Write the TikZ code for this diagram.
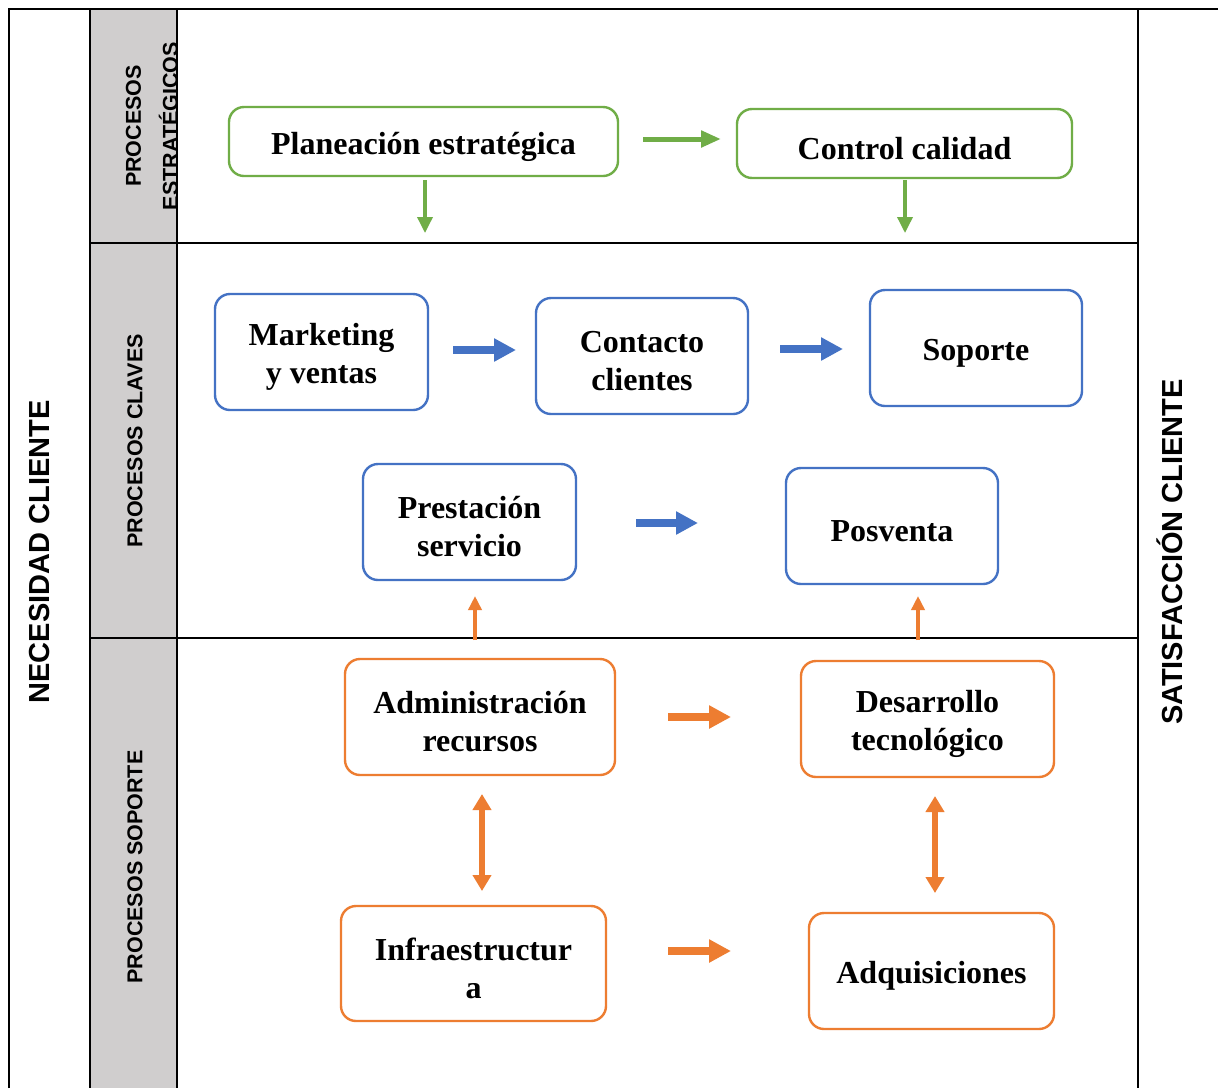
\documentclass[tikz,border=0pt]{standalone}
\usepackage{fontspec}
\setmainfont{Liberation Serif}
\newfontfamily\arial{Liberation Sans}
\usetikzlibrary{arrows.meta}
\definecolor{cgreen}{RGB}{112,173,71}
\definecolor{cblue}{RGB}{68,114,196}
\definecolor{corange}{RGB}{237,125,49}
\definecolor{cgray}{RGB}{208,206,206}
\tikzset{
  frame/.style={line width=2.6pt, black},
  pbox/.style={draw, rounded corners=15pt, line width=2.4pt, inner sep=0pt},
  ptext/.style={align=center, font=\bfseries\fontsize{32}{38}\selectfont, inner sep=0pt, yshift=-5pt},
  gbox/.style={pbox, draw=cgreen},
  bbox/.style={pbox, draw=cblue},
  obox/.style={pbox, draw=corange},
  lanelabel/.style={rotate=90, align=center, font=\arial\bfseries\fontsize{21.5}{37}\selectfont},
  sidelabel/.style={rotate=90, font=\arial\bfseries\fontsize{29}{32}\selectfont},
  garrow/.style={cgreen, line width=5pt, -{Triangle[length=20pt,width=16pt]}},
  gdown/.style={cgreen, line width=3.5pt, -{Triangle[length=16pt,width=15pt]}},
  barrow/.style={cblue, line width=8pt, -{Triangle[length=22pt,width=22pt]}},
  oarrow/.style={corange, line width=8pt, -{Triangle[length=22pt,width=22pt]}},
  oup/.style={corange, line width=4pt, -{Triangle[length=14pt,width=13pt]}},
  odouble/.style={corange, line width=6pt, {Triangle[length=16pt,width=18pt]}-{Triangle[length=16pt,width=18pt]}},
}
\begin{document}
\begin{tikzpicture}[x=1pt,y=-1pt]
\useasboundingbox (0,0) rectangle (1218,1088);
\fill[white] (0,0) rectangle (1218,1088);
% gray lane column
\fill[cgray] (90,9) rectangle (177,1088);
% frame lines
\draw[frame] (9,1088) -- (9,9) -- (1218,9);
\draw[frame] (90,9) -- (90,1088);
\draw[frame] (177,9) -- (177,1088);
\draw[frame] (1138,9) -- (1138,1088);
\draw[frame] (90,243) -- (1138,243);
\draw[frame] (90,638) -- (1138,638);

% side labels
\node[sidelabel] (nec) at (40,552) {NECESIDAD CLIENTE};
\node[sidelabel] (sat) at (1170,552) {SATISFACCIÓN CLIENTE};

% lane labels
\node[lanelabel] (lest) at (152,126) {PROCESOS\\ESTRATÉGICOS};
\node[lanelabel] (lcla) at (135,441) {PROCESOS CLAVES};
\node[lanelabel] (lsop) at (135,867) {PROCESOS SOPORTE};

% strategic
\node[gbox, minimum width=389pt, minimum height=69pt, label={[ptext]center:Planeación estratégica}] (plan) at (423.5,141.5) {};
\node[gbox, minimum width=335pt, minimum height=69pt, label={[ptext]center:Control calidad}] (ctrl) at (904.5,143.5) {};

% key processes
\node[bbox, minimum width=213pt, minimum height=116pt, label={[ptext]center:Marketing\\y ventas}] (mkt) at (321.5,352) {};
\node[bbox, minimum width=212pt, minimum height=116pt, label={[ptext]center:Contacto\\clientes}] (cont) at (642,356) {};
\node[bbox, minimum width=212pt, minimum height=116pt, label={[ptext]center:Soporte}] (sop) at (976,348) {};
\node[bbox, minimum width=213pt, minimum height=116pt, label={[ptext]center:Prestación\\servicio}] (pres) at (469.5,522) {};
\node[bbox, minimum width=212pt, minimum height=116pt, label={[ptext]center:Posventa}] (posv) at (892,526) {};

% support
\node[obox, minimum width=270pt, minimum height=116pt, label={[ptext]center:Administración\\recursos}] (adm) at (480,717) {};
\node[obox, minimum width=253pt, minimum height=116pt, label={[ptext]center:Desarrollo\\tecnológico}] (des) at (927.5,719) {};
\node[obox, minimum width=265pt, minimum height=115pt, label={[ptext]center:Infraestructur\\a}] (inf) at (473.5,963.5) {};
\node[obox, minimum width=245pt, minimum height=116pt, label={[ptext]center:Adquisiciones}] (adq) at (931.5,971) {};

% arrow end coordinates
\coordinate (g1s) at (643,139); \coordinate (g1e) at (721,139);
\coordinate (g2s) at (425,180); \coordinate (g2e) at (425,233);
\coordinate (g3s) at (905,180); \coordinate (g3e) at (905,233);
\coordinate (b1s) at (453,350); \coordinate (b1e) at (516,350);
\coordinate (b2s) at (780,349); \coordinate (b2e) at (843,349);
\coordinate (b3s) at (636,523); \coordinate (b3e) at (698,523);
\coordinate (o1s) at (475,640); \coordinate (o1e) at (475,596);
\coordinate (o2s) at (918,640); \coordinate (o2e) at (918,596);
\coordinate (o3s) at (668,717); \coordinate (o3e) at (731,717);
\coordinate (o4s) at (482,794); \coordinate (o4e) at (482,891);
\coordinate (o5s) at (935,796); \coordinate (o5e) at (935,893);
\coordinate (o6s) at (668,951); \coordinate (o6e) at (731,951);

\draw[garrow] (g1s) -- (g1e);
\draw[gdown] (g2s) -- (g2e);
\draw[gdown] (g3s) -- (g3e);
\draw[barrow] (b1s) -- (b1e);
\draw[barrow] (b2s) -- (b2e);
\draw[barrow] (b3s) -- (b3e);
\draw[oup] (o1s) -- (o1e);
\draw[oup] (o2s) -- (o2e);
\draw[oarrow] (o3s) -- (o3e);
\draw[odouble] (o4s) -- (o4e);
\draw[odouble] (o5s) -- (o5e);
\draw[oarrow] (o6s) -- (o6e);
\end{tikzpicture}
\end{document}
